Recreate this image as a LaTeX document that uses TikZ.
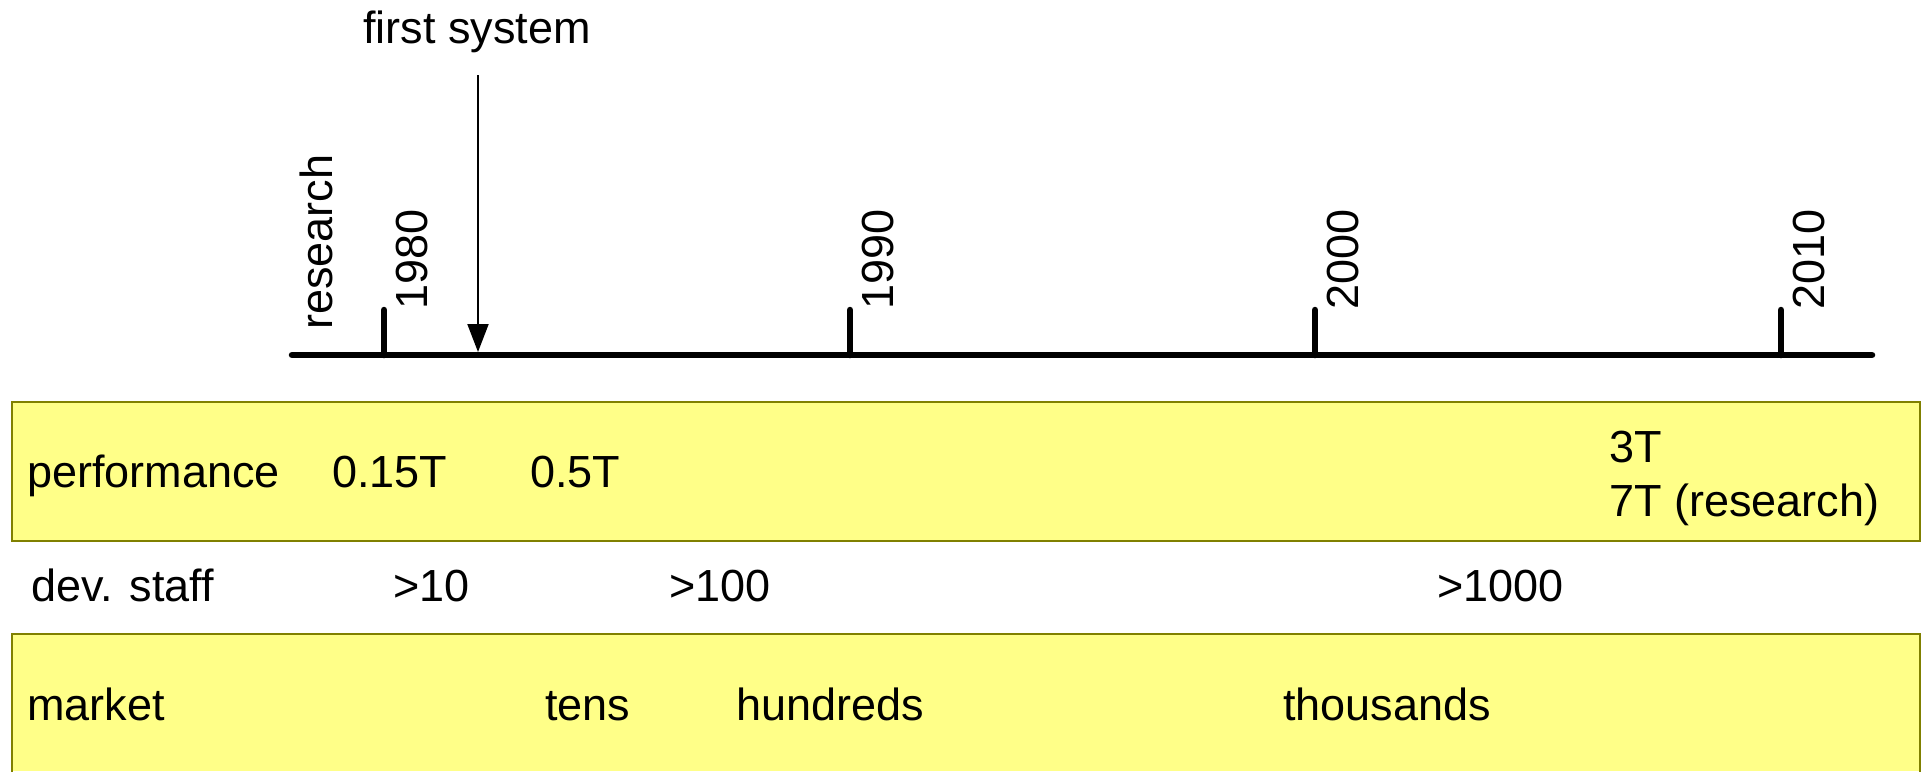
\documentclass[tikz,border=0pt]{standalone}
\usepackage{fontspec}
\setmainfont{Liberation Sans}
\usetikzlibrary{arrows.meta}
\definecolor{bandfill}{RGB}{255,255,136}
\definecolor{bandline}{RGB}{128,128,0}
\begin{document}
\begin{tikzpicture}[x=1pt,y=-1pt,
  lbl/.style={font=\fontsize{45}{54}\selectfont, inner sep=0pt, anchor=base west},
  yearlbl/.style={lbl, rotate=90},
  axisline/.style={line width=6.5pt, line cap=round},
  band/.style={fill=bandfill, draw=bandline, line width=2pt},
  pointer/.style={line width=2pt, -{Triangle[length=28pt,width=21pt]}}]
\useasboundingbox (0,0) rectangle (1929,771);

% yellow bands
\draw[band] (12,402) rectangle (1920,541);
\fill[bandfill] (12,634) rectangle (1920,771);
\draw[bandline, line width=2pt] (12,775) -- (12,634) -- (1920,634) -- (1920,775);

% time axis with ticks
\coordinate (axisL) at (292,355);
\coordinate (axisR) at (1872,355);
\draw[axisline] (axisL) -- (axisR);
\foreach \x/\yr in {384/1980, 850/1990, 1315/2000, 1781/2010}{
  \coordinate (t\yr) at (\x,355);
  \coordinate (tt\yr) at (\x,310);
  \draw[axisline] (t\yr) -- (tt\yr);
  \node[yearlbl] (y\yr) at (\x+43,310) {\yr};
}
\node[yearlbl] (research) at (332,330) {research};

% first system marker
\node[lbl, anchor=base] (firstsys) at (477,43) {first system};
\coordinate (fsTop) at (478,75);
\coordinate (fsTip) at (478,352);
\draw[pointer] (fsTop) -- (fsTip);

% performance row
\node[lbl] (perf) at (27,487) {performance};
\node[lbl] (p1) at (332,487) {0.15T};
\node[lbl] (p2) at (530,487) {0.5T};
\node[lbl] (p3) at (1609,462) {3T};
\node[lbl] (p4) at (1609,516) {7T (research)};

% development staff row
\node[lbl] (staff) at (31,601) {dev. staff};
\node[lbl] (s1) at (393,601) {>10};
\node[lbl] (s2) at (669,601) {>100};
\node[lbl] (s3) at (1437,601) {>1000};

% market row
\node[lbl] (market) at (27,720) {market};
\node[lbl] (m1) at (545,720) {tens};
\node[lbl] (m2) at (736,720) {hundreds};
\node[lbl] (m3) at (1283,720) {thousands};
\end{tikzpicture}
\end{document}
